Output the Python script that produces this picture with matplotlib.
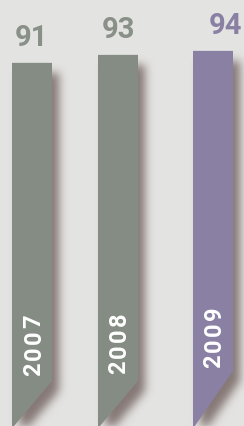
import numpy as np
import matplotlib
matplotlib.use("Agg")
import matplotlib.pyplot as plt
from matplotlib.path import Path

# data
years = ["2007", "2008", "2009"]
values = [91, 93, 94]

# style
bg = "#e3e3e1"
bar_colors = ["#858c84", "#858c84", "#8a80a3"]
label_colors = ["#899088", "#899088", "#8a80a3"]
shadow_rgb = (0.40, 0.33, 0.32)
x_pos = [32, 118, 213]        # bar centres in pixel units
label_dx = [-1, 0, 13]        # value label shift
year_dx = [2, 1, 1]
year_y = [345, 343, 337]      # pixel rows of year label centres
slant = [11.3, 11.3, 13.8]    # height of right edge bottom (data units)
bar_w = 40
W, H = 244, 427
ymax = 107.0
px = ymax / H                 # data units per pixel (vertical)

fig = plt.figure(figsize=(W / 100, H / 100), dpi=100)
fig.patch.set_facecolor(bg)
ax = fig.add_axes([0, 0, 1, 1])
ax.set_facecolor(bg)
ax.set_xlim(0, W)
ax.set_ylim(0, ymax)
ax.axis("off")

def bar_poly(c, v, s, dx=0.0, dy=0.0):
    l, r = c - bar_w / 2 + dx, c + bar_w / 2 + dx
    xs = [l, l, r, r, l + 1]
    ys = [-5 + dy, v + dy, v + dy, s + dy, -0.3 + dy]
    return xs, ys

# blurred drop shadow, rasterised on the pixel grid
gx, gy = np.meshgrid(np.arange(W) + 0.5, (H - np.arange(H) - 0.5) * px)
pts = np.column_stack([gx.ravel(), gy.ravel()])
mask = np.zeros(gx.shape)
for i, v in enumerate(values):
    xs, ys = bar_poly(x_pos[i], v, slant[i], dx=7, dy=-10 * px)
    mask += Path(np.column_stack([xs, ys])).contains_points(pts).reshape(gx.shape)
sig = 4.5
k = np.exp(-0.5 * (np.arange(-14, 15) / sig) ** 2)
k /= k.sum()
mask = np.apply_along_axis(lambda m: np.convolve(m, k, mode="same"), 1, mask)
mask = np.apply_along_axis(lambda m: np.convolve(m, k, mode="same"), 0, mask)
shadow = np.zeros((H, W, 4))
shadow[..., :3] = shadow_rgb
shadow[..., 3] = np.clip(mask, 0, 1) * 0.75
ax.imshow(shadow, extent=(0, W, 0, ymax), aspect="auto", zorder=1,
          interpolation="bilinear")

for i, (yr, v) in enumerate(zip(years, values)):
    c = x_pos[i]
    xs, ys = bar_poly(c, v, slant[i])
    ax.fill(xs, ys, color=bar_colors[i], lw=0, zorder=3)
    ax.text(c + label_dx[i], v + 26 * px, str(v), ha="center", va="center",
            fontsize=21, fontweight="bold", color=label_colors[i],
            family="Roboto", zorder=4)
    # year label, letter-spaced, reading bottom-to-top
    for j, ch in enumerate(yr):
        yc = (H - year_y[i]) * px + (j - 1.5) * 16 * px
        ax.text(c + year_dx[i], yc, ch, rotation=90, ha="center",
                va="center", fontsize=17, fontweight="bold", color="white",
                family="Roboto", zorder=4)

ax.set_xlim(0, W)
ax.set_ylim(0, ymax)
fig.savefig("out.png", dpi=100, facecolor=bg)
